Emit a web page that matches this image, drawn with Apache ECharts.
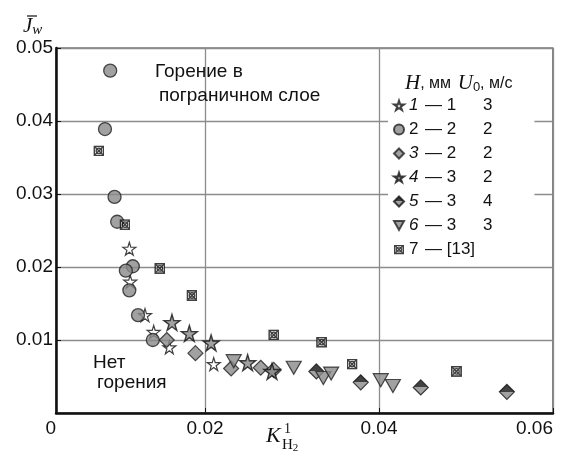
<!DOCTYPE html>
<html>
<head>
<meta charset="utf-8">
<script src="https://cdn.jsdelivr.net/npm/echarts@6/dist/echarts.min.js"></script>
<style>
  html, body { margin: 0; padding: 0; background: #fff; }
  #chart { width: 562px; height: 455px; }
</style>
</head>
<body>
<div id="chart"></div>
<script>
// series data (x = K_H2, y = J_w)
const s1X = [0.0113, 0.0114, 0.0131, 0.0141, 0.0159, 0.0210]
const s1Y = [0.0225, 0.0180, 0.0134, 0.0111, 0.0090, 0.0067]
const s2X = [0.0091, 0.0085, 0.0096, 0.0099, 0.0117, 0.0109, 0.0113, 0.0123, 0.0140]
const s2Y = [0.0469, 0.0389, 0.0296, 0.0262, 0.0201, 0.0195, 0.0168, 0.0134, 0.0100]
const s3X = [0.0156, 0.0189, 0.0230, 0.0264, 0.0279]
const s3Y = [0.0100, 0.0082, 0.0061, 0.0062, 0.0059]
const s4X = [0.0162, 0.0182, 0.0207, 0.0249, 0.0277]
const s4Y = [0.0124, 0.0109, 0.0096, 0.0069, 0.0057]
const s5X = [0.0328, 0.0379, 0.0448, 0.0547]
const s5Y = [0.0057, 0.0042, 0.0035, 0.0029]
const s6X = [0.0233, 0.0302, 0.0336, 0.0345, 0.0402, 0.0416]
const s6Y = [0.0071, 0.0062, 0.0048, 0.0054, 0.0045, 0.0037]
const s7X = [0.0078, 0.0108, 0.0148, 0.0185, 0.0279, 0.0334, 0.0369, 0.0489]
const s7Y = [0.0359, 0.0258, 0.0198, 0.0161, 0.0107, 0.0097, 0.0067, 0.0057]

// legend rows: number, H (mm), U0 (m/s)
const seriesNames = ['1', '2', '3', '4', '5', '6', '7']
const legendH = ['1', '2', '2', '3', '3', '3', '[13]']
const legendU = ['3', '2', '2', '2', '4', '3', '']
const italicNames = ['1', '3', '4', '5', '6']

// the original x axis is not linear near zero: the "0" sits at this value
const X_MIN = 0.00287
const xTicks = [X_MIN, 0.02, 0.04, 0.06]
const xTickLabels = ['0', '0.02', '0.04', '0.06']

const STAR = 'path://M50,0 L61,35 L98,35 L68,57 L79,91 L50,70 L21,91 L32,57 L2,35 L39,35 Z'
const TRI_DOWN = 'path://M0,0 L20,0 L10,18 Z'
const GRAY = '#8a8a8a'
const hatchSvg = '<svg xmlns="http://www.w3.org/2000/svg" width="20" height="20">' +
  '<rect x="1.5" y="1.5" width="17" height="17" fill="#fff" stroke="#111" stroke-width="3"/>' +
  '<path d="M2 2 L18 18 M18 2 L2 18" stroke="#111" stroke-width="2.6"/>' +
  '<circle cx="10" cy="10" r="5" fill="none" stroke="#111" stroke-width="2.4"/></svg>'
const HATCH = 'image://data:image/svg+xml;charset=utf-8,' + encodeURIComponent(hatchSvg)

const zip = (xs, ys) => xs.map((x, i) => [x, ys[i]])

const chart = echarts.init(document.getElementById('chart'))

const halfBlack = new echarts.graphic.LinearGradient(0, 0, 0, 1, [
  { offset: 0, color: '#111' },
  { offset: 0.5, color: '#111' },
  { offset: 0.5, color: GRAY },
  { offset: 1, color: GRAY }
])

const base = { type: 'scatter', z: 3 }
const series = [
  Object.assign({}, base, {
    name: '1', data: zip(s1X, s1Y), symbol: STAR, symbolSize: 13,
    itemStyle: { color: '#fff', borderColor: '#111', borderWidth: 1.2 }
  }),
  Object.assign({}, base, {
    name: '2', data: zip(s2X, s2Y), symbol: 'circle', symbolSize: 13,
    itemStyle: { color: GRAY, borderColor: '#222', borderWidth: 1.3 }
  }),
  Object.assign({}, base, {
    name: '3', data: zip(s3X, s3Y), symbol: 'diamond', symbolSize: [15, 15],
    itemStyle: { color: GRAY, borderColor: '#222', borderWidth: 1.2 }
  }),
  Object.assign({}, base, {
    name: '4', data: zip(s4X, s4Y), symbol: STAR, symbolSize: 16,
    itemStyle: { color: GRAY, borderColor: '#111', borderWidth: 1.4 }
  }),
  Object.assign({}, base, {
    name: '5', data: zip(s5X, s5Y), symbol: 'diamond', symbolSize: [15, 15],
    itemStyle: { color: halfBlack, borderColor: '#111', borderWidth: 1.2 }
  }),
  Object.assign({}, base, {
    name: '6', data: zip(s6X, s6Y), symbol: TRI_DOWN, symbolSize: [15, 13],
    itemStyle: { color: GRAY, borderColor: '#222', borderWidth: 1.2 }
  }),
  Object.assign({}, base, {
    name: '7', data: zip(s7X, s7Y), symbol: HATCH, symbolSize: 11
  })
]

const legendRich = {
  ni: { fontSize: 17, fontStyle: 'italic', width: 16, fontFamily: 'Liberation Sans' },
  nu: { fontSize: 17, width: 16, fontFamily: 'Liberation Sans' },
  m: { fontSize: 17, width: 58, fontFamily: 'Liberation Sans' },
  u: { fontSize: 17, fontFamily: 'Liberation Sans' }
}

const option = {
  animation: false,
  backgroundColor: '#fff',
  grid: {
    left: 56, right: 9, top: 48, bottom: 42,
    show: true, borderColor: '#333', borderWidth: 1.2
  },
  xAxis: {
    type: 'value',
    min: X_MIN,
    max: 0.06,
    axisLine: { show: true, onZero: false, lineStyle: { color: '#111', width: 2.5 } },
    axisTick: { show: true, inside: true, length: 5, customValues: xTicks, lineStyle: { color: '#111' } },
    axisLabel: {
      customValues: xTicks,
      formatter: (v) => xTickLabels[xTicks.indexOf(v)] || '',
      color: '#111', fontSize: 19, fontFamily: 'Liberation Sans', margin: 6,
      alignMinLabel: 'right', alignMaxLabel: 'right'
    },
    splitLine: { show: true, lineStyle: { color: '#8c8c8c', width: 1.3 } }
  },
  yAxis: {
    type: 'value',
    min: 0,
    max: 0.05,
    interval: 0.01,
    axisLine: { show: true, onZero: false, lineStyle: { color: '#111', width: 2.5 } },
    axisTick: { show: true, inside: true, length: 5, lineStyle: { color: '#111' } },
    axisLabel: {
      formatter: (v) => (v === 0 ? '' : v.toFixed(2)),
      color: '#111', fontSize: 19, fontFamily: 'Liberation Sans', margin: 3
    },
    splitLine: { show: true, lineStyle: { color: '#8c8c8c', width: 1.3 } }
  },
  legend: {
    data: seriesNames,
    orient: 'vertical',
    left: 388,
    top: 68,
    padding: [29, 42, 4, 5],
    backgroundColor: '#fff',
    itemWidth: 10,
    itemHeight: 10,
    itemGap: 7,
    selectedMode: false,
    textStyle: { color: '#111', fontSize: 17, lineHeight: 17, rich: legendRich },
    formatter: (name) => {
      const i = seriesNames.indexOf(name)
      const n = italicNames.includes(name) ? '{ni|' + name + '}' : '{nu|' + name + '}'
      return n + '{m|\u2014 ' + legendH[i] + '}' + '{u|' + legendU[i] + '}'
    }
  },
  graphic: [
    // legend header
    {
      type: 'text', left: 405, top: 73, z: 100,
      style: {
        text: '{h|H}{t|, мм}  {h|U}{s|0}{t|, м/с}',
        rich: {
          h: { fontFamily: 'Liberation Serif', fontStyle: 'italic', fontSize: 21, fill: '#111' },
          s: { fontFamily: 'Liberation Sans', fontSize: 13, fill: '#111', padding: [8, 0, 0, 0] },
          t: { fontFamily: 'Liberation Sans', fontSize: 16, fill: '#111' }
        }
      }
    },
    // region notes
    {
      type: 'text', left: 155, top: 62, z: 100,
      style: { text: 'Горение в', font: '19px "Liberation Sans"', fill: '#111' }
    },
    {
      type: 'text', left: 159, top: 86, z: 100,
      style: { text: 'пограничном слое', font: '19px "Liberation Sans"', fill: '#111' }
    },
    {
      type: 'text', left: 93, top: 353, z: 100,
      style: { text: 'Нет', font: '19px "Liberation Sans"', fill: '#111' }
    },
    {
      type: 'text', left: 97, top: 373, z: 100,
      style: { text: 'горения', font: '19px "Liberation Sans"', fill: '#111' }
    },
    // y axis name: J-bar with subscript w
    {
      type: 'text', left: 23, top: 16, z: 100,
      style: {
        text: '{j|J}{w|w}',
        rich: {
          j: { fontFamily: 'Liberation Serif', fontStyle: 'italic', fontSize: 21, fill: '#111' },
          w: { fontFamily: 'Liberation Serif', fontStyle: 'italic', fontSize: 15, fill: '#111', padding: [8, 0, 0, 0] }
        }
      }
    },
    {
      type: 'line', z: 100,
      shape: { x1: 27, y1: 16, x2: 37, y2: 16 },
      style: { stroke: '#111', lineWidth: 1.2 }
    },
    // x axis name: K with superscript 1 and subscript H2
    {
      type: 'text', left: 266, top: 425, z: 100,
      style: { text: 'K', font: 'italic 22px "Liberation Serif"', fill: '#111' }
    },
    {
      type: 'text', left: 284, top: 422, z: 100,
      style: { text: '1', font: '14px "Liberation Serif"', fill: '#111' }
    },
    {
      type: 'text', left: 282, top: 438, z: 100,
      style: {
        text: '{a|H}{b|2}',
        rich: {
          a: { fontFamily: 'Liberation Serif', fontSize: 15, fill: '#111' },
          b: { fontFamily: 'Liberation Serif', fontSize: 11, fill: '#111', padding: [6, 0, 0, 0] }
        }
      }
    }
  ],
  series: series
}

chart.setOption(option)
</script>
</body>
</html>
